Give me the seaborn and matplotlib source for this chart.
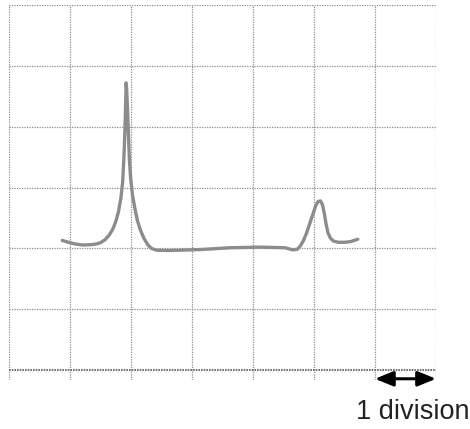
import numpy as np
import pandas as pd
import matplotlib
matplotlib.use("Agg")
import matplotlib.pyplot as plt
import seaborn as sns

# trace, in grid divisions
trace_x = [0.88, 0.98, 1.10, 1.22, 1.34, 1.43, 1.50, 1.58, 1.65, 1.71, 1.76, 1.80,
           1.84, 1.87, 1.89, 1.905, 1.918, 1.926, 1.935, 1.95, 1.965, 1.98, 2.00,
           2.03, 2.07, 2.11, 2.16, 2.22, 2.28, 2.34, 2.42, 2.60, 2.81, 3.14, 3.63,
           4.12, 4.53, 4.65, 4.73, 4.78, 4.83, 4.88, 4.93, 4.98, 5.03, 5.07, 5.107,
           5.14, 5.17, 5.20, 5.23, 5.27, 5.32, 5.40, 5.50, 5.60, 5.72]
trace_y = [2.13, 2.10, 2.07, 2.055, 2.06, 2.07, 2.09, 2.14, 2.22, 2.32, 2.45, 2.60,
           2.82, 3.10, 3.50, 3.90, 4.35, 4.72, 4.62, 4.25, 3.85, 3.45, 3.15,
           2.88, 2.65, 2.46, 2.30, 2.16, 2.06, 2.00, 1.97, 1.965, 1.97, 1.98, 2.01,
           2.02, 2.01, 1.975, 1.985, 2.04, 2.13, 2.25, 2.40, 2.55, 2.70, 2.77, 2.78,
           2.72, 2.58, 2.40, 2.26, 2.17, 2.12, 2.10, 2.10, 2.11, 2.15]
n_xdiv = 7
n_ydiv = 6
scale_label = "1 division"

df = pd.DataFrame({"x": trace_x, "y": trace_y})

sns.set_style("white")
plt.rcParams['font.family'] = ['Liberation Sans', 'DejaVu Sans']

W, H = 470, 429
fig = plt.figure(figsize=(W / 100, H / 100), dpi=100)
# grid: x 0..7 spans px 8.5..436, y 0..6 spans px 370..5; axes extend to px 380 below
px_per = 61.0
bottom_px = 380
ax = fig.add_axes([8.5 / W, (H - bottom_px) / H, (436 - 8.5) / W, (bottom_px - 5) / H])
ymin = -(bottom_px - 370) / px_per
ax.set_xlim(0, n_xdiv)
ax.set_ylim(ymin, n_ydiv)

for xv in range(n_xdiv + 1):
    ax.axvline(xv, color="#8f8f8f", lw=0.9, ls=(0, (1, 1)), zorder=1)
for yv in range(1, n_ydiv + 1):
    ax.axhline(yv, color="#8f8f8f", lw=0.9, ls=(0, (1, 1)), zorder=1)
ax.axhline(0, color="#5a5a5a", lw=1.2, ls=(0, (1, 0.6)), zorder=1)

sns.lineplot(data=df, x="x", y="y", ax=ax, color="#8c8c8c", lw=2.4,
             sort=False, estimator=None, zorder=3,
             solid_joinstyle="round", solid_capstyle="round")

ax.annotate("", xy=(n_xdiv - 1, ymin + 0.02), xytext=(n_xdiv, ymin + 0.02),
            arrowprops=dict(arrowstyle="<|-|>,head_length=1.1,head_width=0.45",
                            color="black", lw=2.2, shrinkA=0, shrinkB=0),
            annotation_clip=False)
ax.text(n_xdiv - 1 - 0.31, -0.69, scale_label, ha="left", va="center",
        fontsize=19.5, color="#222222", clip_on=False)

for s in ax.spines.values():
    s.set_visible(False)
ax.set_xticks([])
ax.set_yticks([])
ax.set_xlabel("")
ax.set_ylabel("")

fig.savefig("out.png", dpi=100)
